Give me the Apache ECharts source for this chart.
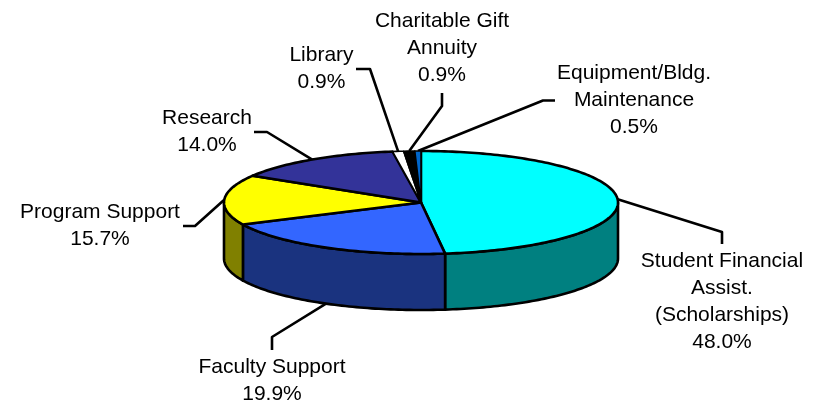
<!DOCTYPE html>
<html><head><meta charset="utf-8">
<style>html,body{margin:0;padding:0;background:#fff}#c{width:823px;height:403px}</style>
<script src="https://cdn.jsdelivr.net/npm/echarts@6/dist/echarts.min.js"></script>
</head><body><div id="c"></div>
<script>
const categories = ['Student Financial\nAssist.\n(Scholarships)','Faculty Support','Program Support','Research','Library','Charitable Gift\nAnnuity','Equipment/Bldg.\nMaintenance'];
const values = [48.0,19.9,15.7,14.0,0.9,0.9,0.5];
const topColors = ['#00FFFF','#3366FF','#FFFF00','#333399','#FFFFFF','#000000','#0066CC'];
const sideColors = ['#008080','#1A337F','#808000','#1A1A4D','#808080','#000000','#003366'];

// pie geometry and label layout (pixels, relative to page)
const PIE = {cx:421, cy:202.5, rx:197, ry:51.5, depth:56};
// elbow and end of each leader line, and label centre (x) / top line centre (y)
const leaders = [
  {elbow:[722,232], end:[722,244], label:[722,261]},
  {elbow:[272,337], end:[272,350], label:[272,367]},
  {elbow:[195,226], end:[183,226], label:[100,212]},
  {elbow:[267,132], end:[254,132], label:[207,118]},
  {elbow:[370,69],  end:[356,69],  label:[321.5,55]},
  {elbow:[442,106], end:[442,93],  label:[442,21]},
  {elbow:[543,100.5], end:[555,100.5], label:[634,73]}
];
const total = values.reduce((a,b)=>a+b,0);
const cums = []; values.reduce((a,v,i)=>(cums[i]=a, a+v),0);
const ang = p => p/total*Math.PI*2;
const pt = (t,dy=0) => [PIE.cx+PIE.rx*Math.sin(t), PIE.cy-PIE.ry*Math.cos(t)+dy];
const arc = (a,b,dy=0) => {
  const n=Math.max(2,Math.ceil((b-a)/0.02)), out=[];
  for(let i=0;i<=n;i++) out.push(pt(a+(b-a)*i/n,dy));
  return out;
};
const LINE = {stroke:'#000', lineWidth:2.6, lineJoin:'round'};

function renderSides(params, api){
  const i=params.dataIndex, a=ang(cums[i]), b=a+ang(api.value(0));
  // front-facing part of the wall only: angles between 90 and 270 degrees
  const lo=Math.max(a,Math.PI/2), hi=Math.min(b,Math.PI*3/2);
  if(hi<=lo) return {type:'group',children:[]};
  const pts=arc(lo,hi).concat(arc(lo,hi,PIE.depth).reverse());
  return {type:'polygon',shape:{points:pts},style:{fill:sideColors[i],...LINE}};
}
function renderTops(params, api){
  const i=params.dataIndex, a=ang(cums[i]), b=a+ang(api.value(0));
  const pts=[[PIE.cx,PIE.cy]].concat(arc(a,b));
  return {type:'polygon',shape:{points:pts},style:{fill:topColors[i],...LINE,lineWidth:i>=4?1.6:2.6}};
}
function renderLabels(params, api){
  const i=params.dataIndex, v=api.value(0), l=leaders[i];
  const m=ang(cums[i]+v/2), front=Math.cos(m)<0;
  const s=pt(m,(front&&Math.abs(Math.sin(m))<0.9)?PIE.depth:0);
  return {type:'group',children:[
    {type:'polyline',shape:{points:[s,l.elbow,l.end]},style:{fill:null,...LINE}},
    {type:'text',style:{x:l.label[0],y:l.label[1]-13,text:categories[i]+'\n'+v.toFixed(1)+'%',
      fill:'#000',font:'21px "Liberation Sans", Arial, sans-serif',align:'center',verticalAlign:'top',lineHeight:27}}
  ]};
}
const data = values.map(v=>[v]);
const chart = echarts.init(document.getElementById('c'),null,{renderer:'canvas'});
chart.setOption({
  animation:false,
  backgroundColor:'#fff',
  series:[
    {type:'custom',coordinateSystem:'none',data,renderItem:renderLabels,z:1,silent:true},
    {type:'custom',coordinateSystem:'none',data,renderItem:renderSides,z:2,silent:true},
    {type:'custom',coordinateSystem:'none',data,renderItem:renderTops,z:3,silent:true}
  ]
});
</script></body></html>
